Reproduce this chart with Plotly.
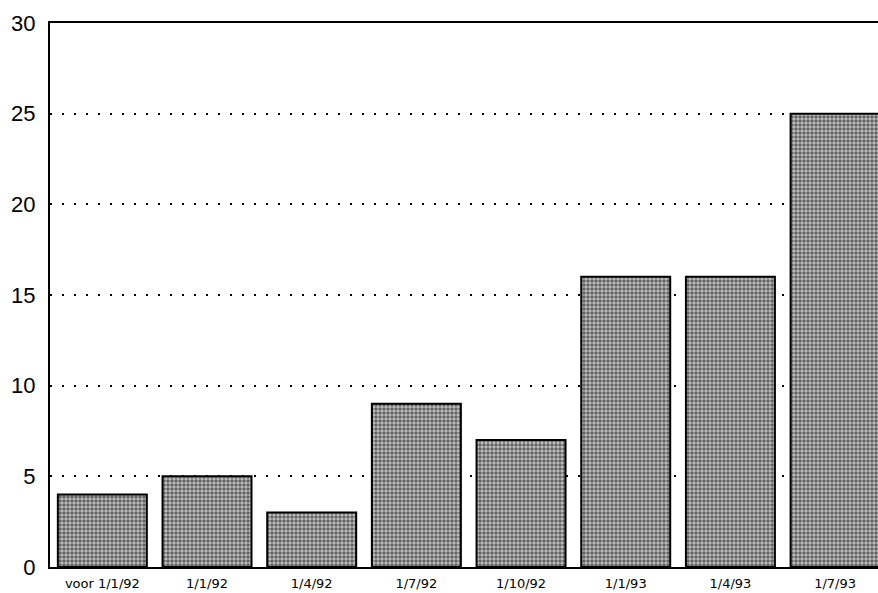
import plotly.graph_objects as go

categories = ["voor 1/1/92", "1/1/92", "1/4/92", "1/7/92", "1/10/92", "1/1/93", "1/4/93", "1/7/93"]
values = [4, 5, 3, 9, 7, 16, 16, 25]
y_ticks = [0, 5, 10, 15, 20, 25, 30]

fig = go.Figure()
fig.add_trace(go.Bar(
    x=list(range(len(categories))),
    y=values,
    marker=dict(
        color="white",
        line=dict(color="black", width=2),
        pattern=dict(shape=".", fgcolor="#000000", bgcolor="#c4c4c4", size=4, solidity=0.6),
    ),
    width=0.85,
))

fig.update_layout(
    width=878, height=593,
    margin=dict(l=50, r=0, t=23, b=26, autoexpand=False),
    plot_bgcolor="white", paper_bgcolor="white",
    showlegend=False,
    font=dict(family="Liberation Sans, Arial, sans-serif", color="black"),
)
fig.update_xaxes(
    range=[-0.5, 7.41], automargin=False,
    tickmode="array", tickvals=list(range(len(categories))), ticktext=categories,
    tickfont=dict(size=13, family="DejaVu Sans"), showgrid=False,
    showline=True, linecolor="black", linewidth=2, mirror=True,
    ticks="", ticklabelstandoff=3,
)
fig.update_yaxes(
    range=[0, 30], tickvals=y_ticks, tickfont=dict(size=22), automargin=False,
    showgrid=True, gridcolor="black", gridwidth=2, griddash="2px,10px",
    showline=True, linecolor="black", linewidth=2,
    zeroline=False, ticks="", ticklabelstandoff=8,
)

fig.write_html("out.html", config={"displayModeBar": False},
               post_script="document.body.style.margin='0';document.body.style.padding='0';")
